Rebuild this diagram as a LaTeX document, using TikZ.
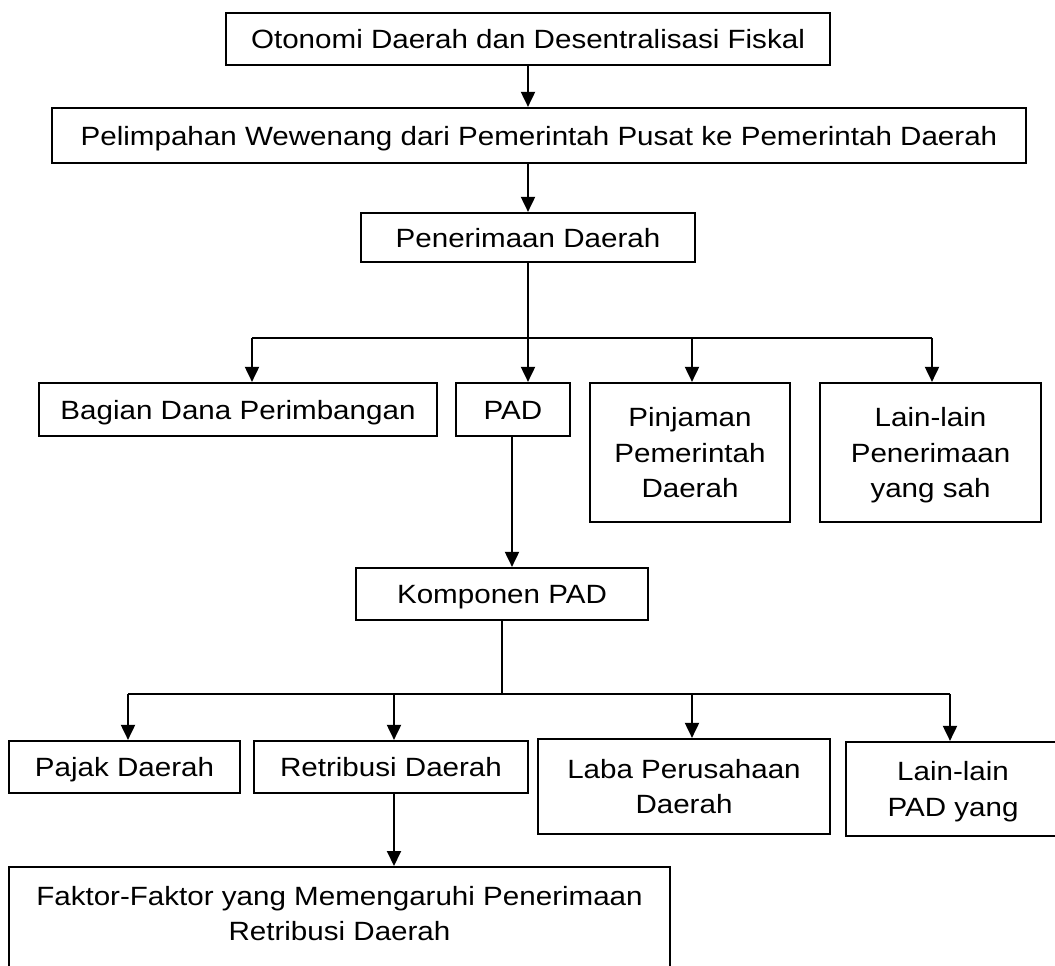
\documentclass[tikz,border=0pt]{standalone}
\usepackage{fontspec}
\setmainfont{Liberation Sans}[FakeStretch=1.12]
\usetikzlibrary{arrows.meta}
\begin{document}
\begin{tikzpicture}[x=1bp,y=-1bp,
  txt/.style={inner sep=0pt, align=center, text depth=0pt, font=\fontsize{26.5}{35.7}\selectfont},
  box/.style={txt, draw=black, line width=2.2bp},
  one/.style={text height=19bp},
  arr/.style={line width=1.9bp, -{Triangle[length=15bp,width=14bp]}},
  ln/.style={line width=1.3bp}]
\useasboundingbox (0,0) rectangle (1055,966);
\clip (0,0) rectangle (1055,966);
% top chain
\node[box, one, minimum width=604bp, minimum height=52bp] (b1) at (528,39) {Otonomi Daerah dan Desentralisasi Fiskal};
\node[box, one, minimum width=974bp, minimum height=55bp] (b2) at (539,135.5) {Pelimpahan Wewenang dari Pemerintah Pusat ke Pemerintah Daerah};
\node[box, one, minimum width=334bp, minimum height=49bp] (b3) at (528,237.5) {Penerimaan Daerah};
\draw[arr] (b1.south) -- (b1.south |- b2.north);
\draw[arr] (b3.north |- b2.south) -- (b3.north);
% row 1
\node[box, one, minimum width=398bp, minimum height=53bp] (bagian) at (238,409.5) {Bagian Dana Perimbangan};
\node[box, one, minimum width=114bp, minimum height=53bp] (pad) at (513,409.5) {PAD};
\node[box, minimum width=200bp, minimum height=139bp] (pinjaman) at (690,452.5) {Pinjaman\\Pemerintah\\Daerah};
\node[box, minimum width=221bp, minimum height=139bp] (lain1) at (930.5,452.5) {Lain-lain\\Penerimaan\\yang sah};
\coordinate (j0) at (528,338);
\coordinate (jl) at (252,338);
\coordinate (jp) at (692,338);
\coordinate (jr) at (932,338);
\draw[ln] (b3.south) -- (j0);
\draw[ln] (jl) -- (jr);
\draw[arr] (jl) -- (jl |- bagian.north);
\draw[arr] (j0) -- (j0 |- pad.north);
\draw[arr] (jp) -- (jp |- pinjaman.north);
\draw[arr] (jr) -- (jr |- lain1.north);
% komponen
\node[box, one, minimum width=292bp, minimum height=52bp] (komp) at (502,594) {Komponen PAD};
\coordinate (padout) at (512,436);
\draw[arr] (padout) -- (padout |- komp.north);
% row 2
\node[box, one, minimum width=231bp, minimum height=52bp] (pajak) at (124.5,767) {Pajak Daerah};
\node[box, one, minimum width=274bp, minimum height=52bp] (retri) at (391,767) {Retribusi Daerah};
\node[box, minimum width=292bp, minimum height=95bp] (laba) at (684,786.5) {Laba Perusahaan\\Daerah};
\node[box, minimum width=214bp, minimum height=94bp] (lain2) at (953,789) {Lain-lain\\PAD yang};
\coordinate (k0) at (502,694);
\coordinate (kl) at (128,694);
\coordinate (kr2) at (394,694);
\coordinate (kl3) at (692,694);
\coordinate (kr) at (950,694);
\draw[ln] (komp.south) -- (k0);
\draw[ln] (kl) -- (kr);
\draw[arr] (kl) -- (kl |- pajak.north);
\draw[arr] (kr2) -- (kr2 |- retri.north);
\draw[arr] (kl3) -- (kl3 |- laba.north);
\draw[arr] (kr) -- (kr |- lain2.north);
% faktor
\node[box, minimum width=661bp, minimum height=130bp, anchor=north] (faktor) at (339.5,866) {};
\node[txt, anchor=north] (faktortxt) at (339.5,886) {Faktor-Faktor yang Memengaruhi Penerimaan\\Retribusi Daerah};
\coordinate (rout) at (394,793);
\draw[arr] (rout) -- (rout |- faktor.north);
\end{tikzpicture}
\end{document}
